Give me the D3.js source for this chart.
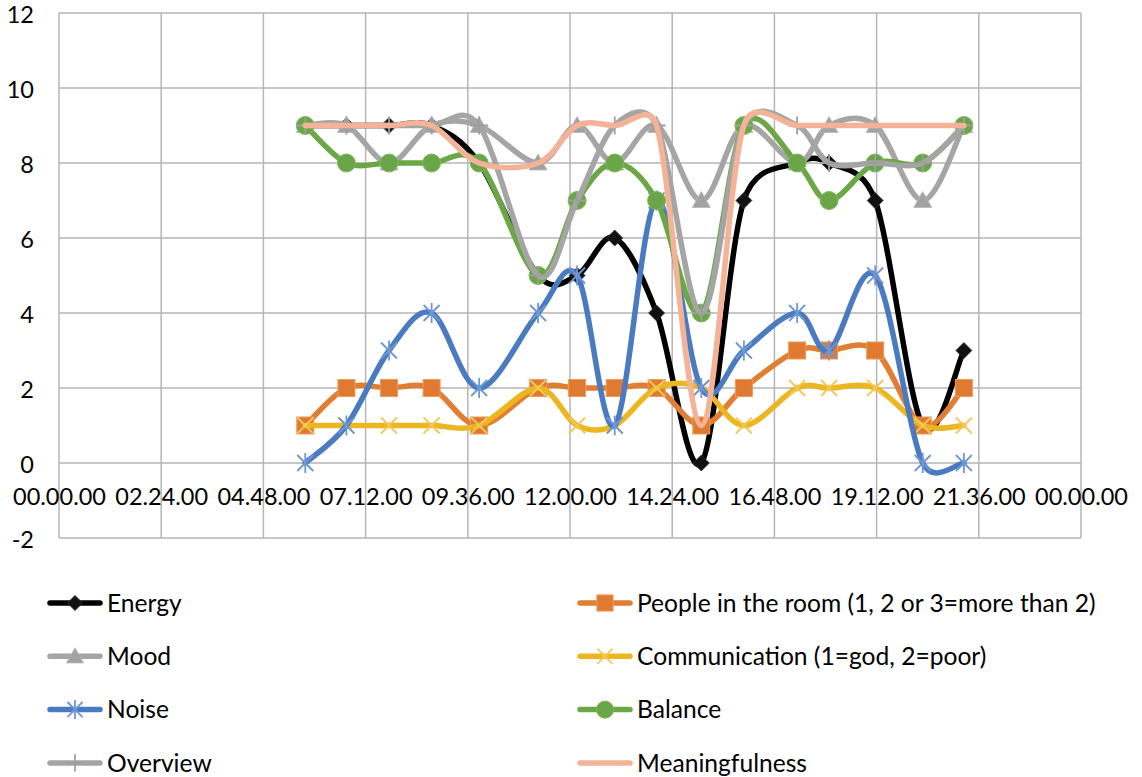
<!DOCTYPE html>
<html><head><meta charset="utf-8">
<script src="https://cdn.jsdelivr.net/npm/d3@7"></script>
<style>
body{margin:0;background:#fff}
text{font-family:Lato, "Open Sans", sans-serif; fill:#000}
</style>
</head><body>
<svg id="chart" width="1142" height="777"></svg>
<script>
// ---------- data ----------
const times = ["05:47","06:45","07:45","08:45","09:52","11:15","12:10","13:03","14:02","15:05","16:05","17:20","18:05","19:10","20:17","21:15"];
const energy         = [9,9,9,9,8,5,5,6,4,0,7,8,8,7,1,3];
const people         = [1,2,2,2,1,2,2,2,2,1,2,3,3,3,1,2];
const mood           = [9,9,8,9,9,8,9,8,9,7,9,8,9,9,7,9];
const communication  = [1,1,1,1,1,2,1,1,2,2,1,2,2,2,1,1];
const noise          = [0,1,3,4,2,4,5,1,7,2,3,4,3,5,0,0];
const balance        = [9,8,8,8,8,5,7,8,7,4,9,8,7,8,8,9];
const overview       = [9,9,9,9,9,5,7,9,9,4,9,9,8,8,8,9];
const meaningfulness = [9,9,9,9,8,8,9,9,9,1,9,9,9,9,9,9];

const seriesNames = ["Energy","People in the room (1, 2 or 3=more than 2)","Mood","Communication (1=god, 2=poor)","Noise","Balance","Overview","Meaningfulness"];
const xTickLabels = ["00.00.00","02.24.00","04.48.00","07.12.00","09.36.00","12.00.00","14.24.00","16.48.00","19.12.00","21.36.00","00.00.00"];
const yTicks = [-2,0,2,4,6,8,10,12];

(function(){
// ---------- styles ----------
const styles = [
  {color:"#000000", marker:"diamond", mfill:"#111111"},
  {color:"#E27E32", marker:"square",  mfill:"#DF7A30"},
  {color:"#A5A5A5", marker:"triangle",mfill:"#A2A2A2"},
  {color:"#EBB620", marker:"x",       mfill:"#F2C85A"},
  {color:"#4A7BC1", marker:"star",    mfill:"#6F97D4"},
  {color:"#6CA745", marker:"circle",  mfill:"#6AA648"},
  {color:"#A5A5A5", marker:"plus",    mfill:"#9E9E9E"},
  {color:"#F4B396", marker:"none",    mfill:"none"}
];
const seriesValues = [energy, people, mood, communication, noise, balance, overview, meaningfulness];

const svg = d3.select("#chart");
svg.append("rect").attr("width",1142).attr("height",777).attr("fill","#fff");

const pL = 59, pR = 1081, pT = 13, pB = 538;
const parseT = s => { const [h,m] = s.split(":").map(Number); return h + m/60; };
const x = d3.scaleLinear().domain([0,24]).range([pL,pR]);
const y = d3.scaleLinear().domain([-2,12]).range([pB,pT]);

// grid
const grid = svg.append("g");
yTicks.forEach(v => grid.append("line").attr("x1",pL).attr("x2",pR).attr("y1",y(v)).attr("y2",y(v))
  .attr("stroke","#B5B5B5").attr("stroke-width",1.5));
xTickLabels.forEach((lab,i) => {
  const xv = x(i*2.4);
  grid.append("line").attr("x1",xv).attr("x2",xv).attr("y1",pT).attr("y2",pB)
    .attr("stroke","#B5B5B5").attr("stroke-width",1.5);
});

// y axis labels
const yAxis = d3.axisLeft(y).tickValues(yTicks).tickSize(0).tickPadding(0).tickFormat(d => String(d));
const gy = svg.append("g").attr("transform",`translate(34,0)`).call(yAxis);
gy.select(".domain").remove();
gy.selectAll("text").attr("font-family","Lato").attr("font-size",23.5).attr("fill","#000").attr("dy","0.4em");

// x axis labels at y=0
const xAxis = d3.axisBottom(x).tickValues(xTickLabels.map((d,i)=>i*2.4)).tickSize(0).tickPadding(0)
  .tickFormat((d,i)=>xTickLabels[i]);
const gx = svg.append("g").attr("transform",`translate(0,${y(0)})`).call(xAxis);
gx.select(".domain").remove();
gx.selectAll("text").attr("font-family","Lato").attr("font-size",23.5).attr("fill","#000").attr("y",34).attr("dy","0.35em");

// marker drawer
function drawMarker(g, type, cx, cy, st, s=1) {
  switch(type){
    case "diamond":
      g.append("path").attr("d",`M${cx},${cy-8*s}L${cx+8*s},${cy}L${cx},${cy+8*s}L${cx-8*s},${cy}Z`)
        .attr("fill",st.mfill).attr("stroke","#333").attr("stroke-width",0.8); break;
    case "square":
      g.append("rect").attr("x",cx-8.5*s).attr("y",cy-8.5*s).attr("width",17*s).attr("height",17*s)
        .attr("fill",st.mfill).attr("stroke","#EE9A5C").attr("stroke-width",1); break;
    case "triangle":
      g.append("path").attr("d",`M${cx},${cy-9*s}L${cx+9*s},${cy+7*s}L${cx-9*s},${cy+7*s}Z`)
        .attr("fill",st.mfill).attr("stroke","#B8B8B8").attr("stroke-width",0.8); break;
    case "circle":
      g.append("circle").attr("cx",cx).attr("cy",cy).attr("r",9*s)
        .attr("fill",st.mfill).attr("stroke","#7DB85A").attr("stroke-width",1); break;
    case "x":
      g.append("path").attr("d",`M${cx-8*s},${cy-8*s}L${cx+8*s},${cy+8*s}M${cx+8*s},${cy-8*s}L${cx-8*s},${cy+8*s}`)
        .attr("stroke",st.mfill).attr("stroke-width",1.8).attr("fill","none"); break;
    case "star":
      g.append("path").attr("d",`M${cx},${cy-10*s}L${cx},${cy+10*s}M${cx-8*s},${cy-8*s}L${cx+8*s},${cy+8*s}M${cx+8*s},${cy-8*s}L${cx-8*s},${cy+8*s}`)
        .attr("stroke",st.mfill).attr("stroke-width",1.8).attr("fill","none"); break;
    case "plus":
      g.append("path").attr("d",`M${cx},${cy-9*s}L${cx},${cy+9*s}M${cx-9*s},${cy}L${cx+9*s},${cy}`)
        .attr("stroke",st.mfill).attr("stroke-width",1.8).attr("fill","none"); break;
  }
}

// Excel-like smoothed line: uniform Catmull-Rom tangents (1/6), clamped per segment
function smoothPath(P) {
  const n = P.length, k = 0.6, p = d3.path();
  const tan = P.map((pt,i) => {
    const A = P[Math.max(0,i-1)], B = P[Math.min(n-1,i+1)];
    return [(B[0]-A[0])/6, (B[1]-A[1])/6];
  });
  const clamp = (t, maxLen) => {
    const L = Math.hypot(t[0],t[1]);
    if (L <= maxLen || L === 0) return t;
    return [t[0]*maxLen/L, t[1]*maxLen/L];
  };
  p.moveTo(P[0][0], P[0][1]);
  for (let i = 0; i < n-1; i++) {
    const A = P[i], B = P[i+1];
    const d = Math.hypot(B[0]-A[0], B[1]-A[1]);
    const t1 = clamp(tan[i], k*d), t2 = clamp(tan[i+1], k*d);
    p.bezierCurveTo(A[0]+t1[0], A[1]+t1[1], B[0]-t2[0], B[1]-t2[1], B[0], B[1]);
  }
  return p.toString();
}

// series
const plot = svg.append("g");
seriesValues.forEach((vals,si) => {
  const st = styles[si];
  const pts = vals.map((v,i)=>({t:parseT(times[i]), v}));
  const g = plot.append("g");
  g.append("path").attr("d",smoothPath(pts.map(p=>[x(p.t), y(p.v)]))).attr("fill","none").attr("stroke",st.color)
    .attr("stroke-width",5.5).attr("stroke-linecap","round").attr("stroke-linejoin","round");
  pts.forEach(p => drawMarker(g, st.marker, x(p.t), y(p.v), st));
});

// legend
const leg = svg.append("g");
seriesNames.forEach((name,i) => {
  const col = i % 2, row = Math.floor(i/2);
  const x0 = col === 0 ? 47 : 577;
  const cy = 603 + row*53.3;
  const st = styles[i];
  const g = leg.append("g");
  g.append("line").attr("x1",x0+3).attr("x2",x0+53).attr("y1",cy).attr("y2",cy)
    .attr("stroke",st.color).attr("stroke-width",5.5).attr("stroke-linecap","round");
  drawMarker(g, st.marker, x0+28, cy, st, 0.95);
  g.append("text").attr("x",x0+60).attr("y",cy).attr("dy","0.36em")
    .attr("font-size",24.6).text(name);
});
})();
</script>
</body></html>
